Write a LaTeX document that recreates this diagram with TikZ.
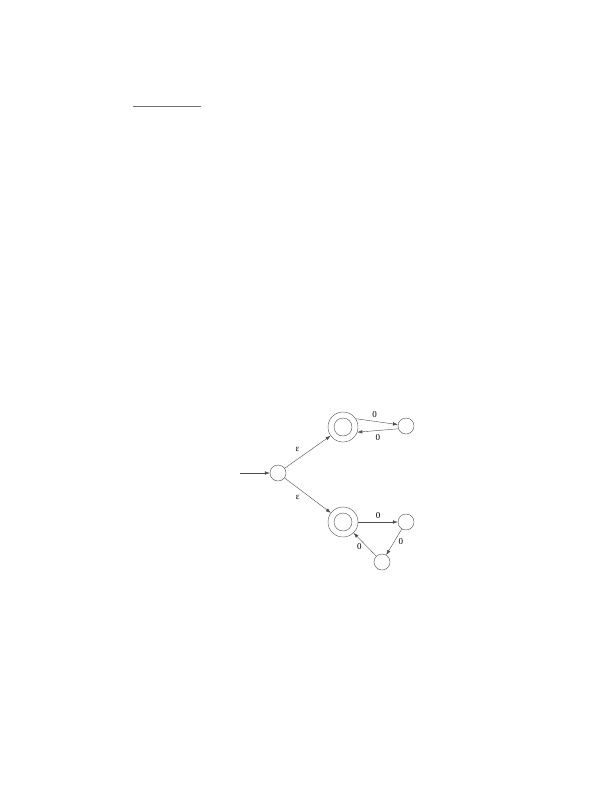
\documentclass[tikz,border=0pt]{standalone}
\usepackage{fontspec}
\setmainfont{Liberation Serif}
\usetikzlibrary{arrows.meta}
\begin{document}
\begin{tikzpicture}[x=1pt,y=-1pt,
  st/.style={circle,draw=black!70,line width=0.4pt,minimum size=16pt,inner sep=0pt},
  acc/.style={st,minimum size=30pt},
  inner/.style={st,minimum size=18pt},
  tr/.style={draw=black!70,line width=0.4pt,-{Latex[length=5pt,width=3.5pt]}},
  lab/.style={font=\fontsize{9}{10}\selectfont}]
\useasboundingbox (0,0) rectangle (612,792);
\draw[black!55,line width=1pt] (133,106) coordinate (l1) -- (201,106) coordinate (l2);
\node[st] (q0) at (278,473) {};
\node[acc] (q1) at (343,427) {};
\node[inner] (q1i) at (q1) {};
\node[st] (q2) at (406,426) {};
\node[acc] (q3) at (343,522) {};
\node[inner] (q3i) at (q3) {};
\node[st] (q4) at (406,522) {};
\node[st] (q5) at (382,562) {};
\coordinate (s) at (240,473);
\draw[tr] (s) -- (q0);
\draw[tr] (q0) -- node[lab,above left,pos=0.4] {ε} (q1);
\draw[tr] (q0) -- node[lab,below left,pos=0.4] {ε} (q3);
\draw[tr] (q1.33) -- node[lab,above,pos=0.45] {0} (q2.170);
\draw[tr] (q2.200) -- node[lab,below,pos=0.5] {0} (q1.-20);
\draw[tr] (q3) -- node[lab,above] {0} (q4);
\draw[tr] (q4) -- node[lab,right=1pt] {0} (q5);
\draw[tr] (q5) -- node[lab,left=2pt,pos=0.4] {0} (q3);
\end{tikzpicture}
\end{document}
